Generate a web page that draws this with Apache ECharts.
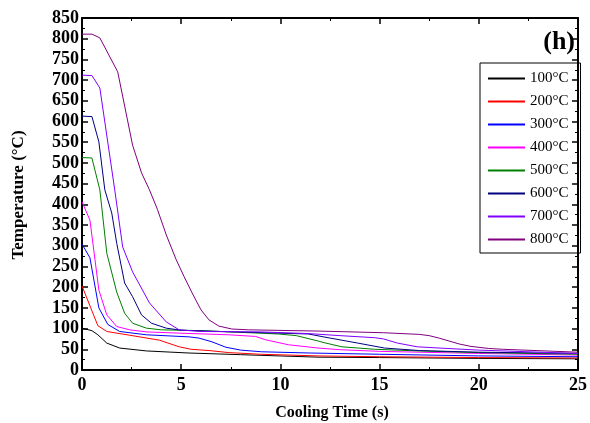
<!DOCTYPE html>
<html><head><meta charset="utf-8">
<script src="https://cdn.jsdelivr.net/npm/echarts@6/dist/echarts.min.js"></script>
<style>html,body{margin:0;padding:0;background:#fff}#c{width:590px;height:423px}</style>
</head><body><div id="c"></div>
<script>
const seriesNames = ['100°C', '200°C', '300°C', '400°C', '500°C', '600°C', '700°C', '800°C'];
const seriesColors = ['#000000', '#ff0000', '#0000ff', '#ff00ff', '#008000', '#000080', '#8000ff', '#800080'];
const xTicks = [0, 5, 10, 15, 20, 25];
const yTicks = [0, 50, 100, 150, 200, 250, 300, 350, 400, 450, 500, 550, 600, 650, 700, 750, 800, 850];

const s100 = [[0,101],[0.5,95],[0.8,85],[1.25,65],[1.9,53],[3.25,46],[5.4,41],[8,37],[11.9,31],[15,30],[20,28],[25,27]];
const s200 = [[0,203],[0.4,155],[0.8,107],[1.25,93],[2.4,84],[3.9,72],[4.9,56],[5.5,50],[6.4,47],[7.4,42],[9,38],[11.9,34],[15,32],[20,30],[25,29]];
const s300 = [[0,304],[0.4,271],[0.85,150],[1.3,110],[1.9,93],[3.25,85],[5.4,80],[5.9,77],[6.55,68],[7.25,55],[8,48],[9.05,44],[11.5,41],[15,38],[20,34],[25,32]];
const s400 = [[0,406],[0.4,362],[0.85,193],[1.25,133],[1.75,105],[2.4,97],[3.25,92],[4.9,89],[7.4,85],[8.75,81],[9.25,73],[10.4,61],[11.9,53],[13,49],[15,45],[20,40],[25,36]];
const s500 = [[0,513],[0.5,512],[0.9,435],[1.25,282],[1.75,188],[2.15,137],[2.55,113],[3.25,101],[4,97],[6,95],[9.9,87],[10.8,83],[11.9,70],[12.2,66],[13.1,56],[14.75,50],[17,46],[20,42],[25,38]];
const s600 = [[0,613],[0.5,612],[0.85,551],[1.15,435],[1.5,379],[1.75,306],[2.15,210],[2.55,177],[3.0,133],[3.5,113],[4.25,101],[5,96],[7,93],[9.9,89],[11.4,87],[12.4,78],[13.9,65],[15.25,53],[17,47],[20,43],[25,40]];
const s700 = [[0,712],[0.5,711],[0.9,681],[1.65,435],[2.05,297],[2.55,237],[3.4,162],[4.25,116],[4.9,97],[6,93],[9,92],[11.4,88],[13,83],[14.75,78],[15.2,75],[15.9,65],[16.9,56],[18.4,52],[20,48],[25,40]];
const s800 = [[0,811],[0.5,811],[0.9,802],[1.8,720],[2.55,543],[3.0,476],[3.4,435],[3.8,388],[4.25,326],[4.75,266],[5.15,225],[5.55,186],[6.0,145],[6.4,121],[6.9,106],[7.55,99],[8.4,97],[11.9,94],[15.2,90],[17,86],[17.5,83],[18.0,77],[18.5,70],[19.0,63],[19.6,57],[20.5,52],[21.2,50],[25,43]];
const allData = [s100, s200, s300, s400, s500, s600, s700, s800];

const FONT = 'Liberation Serif';
const chart = echarts.init(document.getElementById('c'), null, {renderer: 'canvas'});
const axisCommon = {
  type: 'value',
  axisLine: {show: true, onZero: false, lineStyle: {color: '#000', width: 2}},
  axisTick: {show: true, inside: true, length: 6, lineStyle: {color: '#000', width: 1.5}},
  minorTick: {show: true, splitNumber: 2, length: 3, lineStyle: {color: '#000', width: 1}},
  splitLine: {show: false},
  minorSplitLine: {show: false}
};
const labelStyle = {fontFamily: FONT, fontWeight: 'bold', fontSize: 18, color: '#000'};
chart.setOption({
  animation: false,
  backgroundColor: '#fff',
  grid: {left: 82, top: 18, width: 500, height: 352, containLabel: false},
  xAxis: [
    Object.assign({}, axisCommon, {min: xTicks[0], max: xTicks[xTicks.length-1], interval: 5, position: 'bottom',
      axisLabel: Object.assign({margin: 6}, labelStyle)}),
    Object.assign({}, axisCommon, {min: xTicks[0], max: xTicks[xTicks.length-1], interval: 5, position: 'top',
      axisLabel: {show: false}})
  ],
  yAxis: [
    Object.assign({}, axisCommon, {min: yTicks[0], max: yTicks[yTicks.length-1], interval: 50, position: 'left',
      axisLabel: Object.assign({margin: 3}, labelStyle)}),
    Object.assign({}, axisCommon, {min: yTicks[0], max: yTicks[yTicks.length-1], interval: 50, position: 'right',
      axisLabel: {show: false}})
  ],
  legend: {
    orient: 'vertical', left: 480, top: 63,
    padding: [8, 12, 6, 8], itemGap: 8, itemWidth: 37, itemHeight: 2, icon: 'rect',
    borderColor: '#000', borderWidth: 1,
    data: seriesNames,
    textStyle: {fontFamily: FONT, fontSize: 15, color: '#000', lineHeight: 15}
  },
  graphic: [
    {type: 'text', x: 575, y: 42, style: {text: '(h)', fontFamily: FONT, fontWeight: 'bold', fontSize: 26, fill: '#000', align: 'right', verticalAlign: 'middle'}},
    {type: 'text', x: 332, y: 413, style: {text: 'Cooling Time (s)', fontFamily: FONT, fontWeight: 'bold', fontSize: 16, fill: '#000', align: 'center', verticalAlign: 'middle'}},
    {type: 'text', x: 19, y: 195, rotation: Math.PI / 2, style: {
      text: 'Temperature (°C)', fontFamily: FONT, fontWeight: 'bold', fontSize: 17, fill: '#000',
      align: 'center', verticalAlign: 'middle'}}
  ],
  series: seriesNames.map((n, i) => ({
    name: n, type: 'line', data: allData[i], xAxisIndex: 0, yAxisIndex: 0,
    showSymbol: false, symbol: 'none', smooth: false,
    lineStyle: {color: seriesColors[i], width: 1}, itemStyle: {color: seriesColors[i]}
  }))
});
</script></body></html>
